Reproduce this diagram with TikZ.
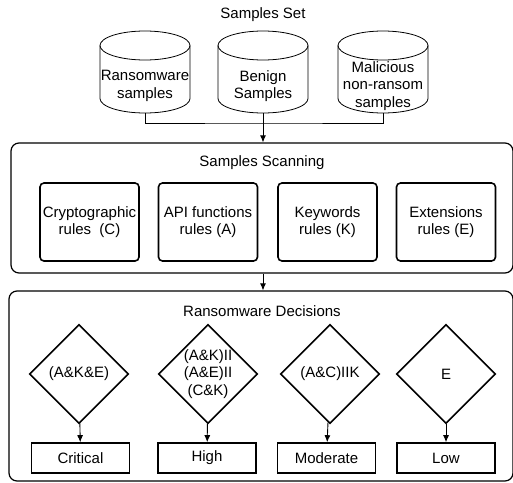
\documentclass[tikz,border=0pt]{standalone}
\usepackage{fontspec}
\setmainfont{Liberation Sans}
\usetikzlibrary{shapes.geometric,arrows.meta}

\tikzset{
  drum/.pic={
    \draw[line width=0.8pt] (-45,-26.5) -- (-45,26.5) arc (180:360:45pt and 14.5pt) -- (45,-26.5) arc (0:180:45pt and 14.5pt) -- cycle;
    \draw[line width=0.8pt] (-45,-26.5) arc (180:360:45pt and 14.5pt);
    \coordinate (-base) at (0,41);
  }
}

\begin{document}
\begin{tikzpicture}[x=1pt, y=-1pt,
    every node/.style={font=\fontsize{15}{17.5}\selectfont, align=center},
    group/.style={draw, rounded corners=8pt, line width=1.2pt},
    rule/.style={draw, rounded corners=4pt, line width=1.6pt, minimum width=99pt, minimum height=78pt, inner sep=0pt},
    test/.style={diamond, draw, line width=1.6pt, minimum width=99pt, minimum height=99pt, inner sep=-6pt},
    level/.style={draw, line width=1.6pt, minimum width=98pt, minimum height=30pt, inner sep=0pt},
    arr/.style={-{Latex[length=7pt, width=6pt]}, line width=0.9pt}]
    \useasboundingbox (0,0) rectangle (513,482);

    % samples set
    \node (set) at (263,15) {Samples Set};
    \pic (c1) at (145,72) {drum};
    \pic (c2) at (263,72) {drum};
    \pic (c3) at (383,72) {drum};
    \node (t1) at (145,86) {Ransomware\\samples};
    \node (t2) at (263,86) {Benign\\Samples};
    \node (t3) at (383,86) {Malicious\\non-ransom\\samples};

    % scanning
    \node[group, minimum width=502pt, minimum height=130pt] (scan) at (262,208) {};
    \node (scantitle) at (262,163) {Samples Scanning};
    \node[rule] (s1) at (89.5,222) {Cryptographic\\rules\ \ (C)};
    \node[rule] (s2) at (208,222) {API functions\\rules (A)};
    \node[rule] (s3) at (327.5,222) {Keywords\\rules (K)};
    \node[rule] (s4) at (446,222) {Extensions\\rules (E)};

    % decisions
    \node[group, minimum width=504pt, minimum height=190pt] (dec) at (261,386) {};
    \node (dectitle) at (262,311) {Ransomware Decisions};
    \node[test] (d1) at (79,374) {(A\&K\&E)};
    \node[test] (d2) at (208,374) {(A\&K)II\\(A\&E)II\\(C\&K)};
    \node[test] (d3) at (330,374) {(A\&C)IIK};
    \node[test] (d4) at (446,374) {E};
    \node[level] (r1) at (80.5,458) {Critical};
    \node[level] (r2) at (207,458) {High};
    \node[level] (r3) at (326.5,458) {Moderate};
    \node[level] (r4) at (446,458) {Low};

    \coordinate (join) at (263,123);
    \draw[line width=0.9pt] (c1-base) |- (join) -| (c3-base);
    \draw[arr] (c2-base) -- (scan.north -| c2-base);
    \draw[arr] (scan.south -| c2-base) -- (dec.north -| c2-base);
    \draw[arr] (d1) -- (r1);
    \draw[arr] (d2) -- (r2);
    \draw[arr] (d3) -- (r3);
    \draw[arr] (d4) -- (r4);
\end{tikzpicture}
\end{document}
